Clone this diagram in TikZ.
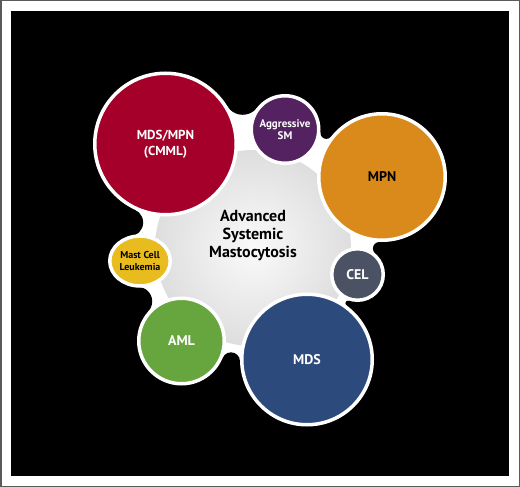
\documentclass[tikz,border=0pt]{standalone}
\usepackage{fontspec}
\setmainfont{PT Sans}
\usepackage{tikz}
\usetikzlibrary{shapes.geometric}

\definecolor{cmmlred}{RGB}{165,0,42}
\definecolor{smpurple}{RGB}{84,34,96}
\definecolor{mpnorange}{RGB}{218,138,26}
\definecolor{celslate}{RGB}{74,82,99}
\definecolor{mdsblue}{RGB}{44,74,124}
\definecolor{amlgreen}{RGB}{103,166,62}
\definecolor{mclyellow}{RGB}{232,188,30}
\definecolor{framegray}{RGB}{90,90,90}

\pgfdeclareradialshading{blobshade}{\pgfpoint{0bp}{0bp}}{color(0bp)=(gray!4); color(50bp)=(gray!48); color(100bp)=(gray!48)}

\begin{document}
\begin{tikzpicture}[x=1pt,y=-1pt,
  every node/.style={align=center,inner sep=0pt},
  bubble/.style={circle,draw=white,line width=3.5pt},
  bigtext/.style={font=\bfseries\fontsize{14}{17}\selectfont},
  smalltext/.style={font=\bfseries\fontsize{10}{12}\selectfont}]
  % frame
  \fill[framegray] (0,0) rectangle (520,487);
  \fill[white] (1.5,1.5) rectangle (518.5,485.5);
  \fill[black] (11,11) rectangle (509,476);

  % centres of the bubbles
  \coordinate (1) at (165.5,144);
  \coordinate (2) at (285,129.5);
  \coordinate (3) at (382,177);
  \coordinate (4) at (357.5,274.5);
  \coordinate (5) at (307,359.5);
  \coordinate (6) at (181.5,341);
  \coordinate (7) at (140,261);
  % notches between the bubbles
  \coordinate (f1) at (242.7,96.8);
  \coordinate (f2) at (326.4,132.9);
  \coordinate (f3) at (379.4,248.5);
  \coordinate (f4) at (348.1,303.2);
  \coordinate (f5) at (231.0,361.3);
  \coordinate (f6) at (137.7,301.4);
  \coordinate (f7) at (129.2,222.5);
  \coordinate (core) at (253,248);

  \fill[white] (1) -- (f1) -- (2) -- (f2) -- (3) -- (f3) -- (4) -- (f4) -- (5) -- (f5) -- (6) -- (f6) -- (7) -- (f7) -- cycle;
  \fill[black] (f1) circle (18pt);
  \fill[black] (f2) circle (6pt);
  \fill[black] (f3) circle (6.5pt);
  \fill[black] (f4) circle (2.7pt);
  \fill[black] (f5) circle (9pt);
  \fill[black] (f6) circle (14.5pt);
  \fill[black] (f7) circle (14pt);
  \shade[shading=blobshade] (core) circle (98pt);

  \node[bubble,fill=cmmlred,text=white,minimum size=141.5pt,font=\bfseries\fontsize{13}{16}\selectfont] (cmml) at (1) {MDS/MPN\\(CMML)};
  \node[bubble,fill=smpurple,text=white,minimum size=67.5pt,font=\bfseries\fontsize{11}{12}\selectfont] (sm) at (2) {Aggressive\\SM};
  \node[bubble,fill=mpnorange,text=black,minimum size=126.5pt,bigtext] (mpn) at (3) {MPN};
  \node[bubble,fill=celslate,text=white,minimum size=51.5pt,bigtext] (cel) at (4) {CEL};
  \node[bubble,fill=mdsblue,text=white,minimum size=130.5pt,bigtext] (mds) at (5) {MDS};
  \node[bubble,fill=amlgreen,text=white,minimum size=85.5pt,bigtext] (aml) at (6) {AML};
  \node[ellipse,draw=white,line width=3.5pt,fill=mclyellow,text=black,minimum width=60.5pt,minimum height=50pt,smalltext] (mcl) at (7) {Mast Cell\\Leukemia};

  \node[font=\bfseries\fontsize{16}{18}\selectfont] (asm) at (253,235) {Advanced\\Systemic\\Mastocytosis};
\end{tikzpicture}
\end{document}
